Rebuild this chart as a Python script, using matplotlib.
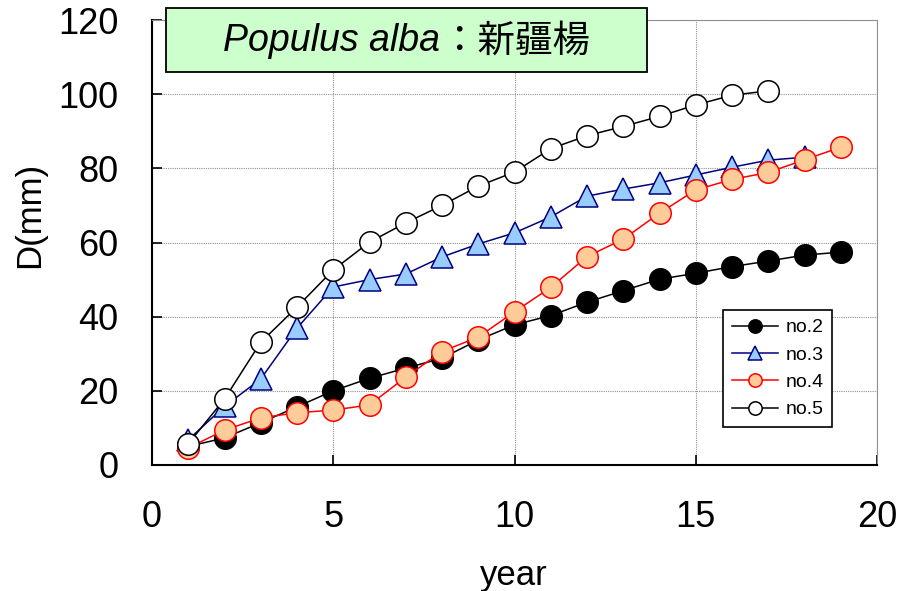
import matplotlib
matplotlib.use("Agg")
import matplotlib.pyplot as plt
from matplotlib.patches import Rectangle

plt.rcParams['font.family'] = ['Liberation Sans', 'Noto Sans CJK JP', 'DejaVu Sans']

# data (D in mm by year)
years_2 = list(range(1, 20))
d_no2 = [5.0, 7.3, 11.4, 15.7, 20.0, 23.4, 26.1, 28.8, 33.7, 37.8,
         40.3, 43.9, 47.0, 50.1, 51.7, 53.5, 55.0, 56.6, 57.4]

years_3 = list(range(1, 19))
d_no3 = [6.8, 15.8, 23.2, 36.9, 48.0, 50.0, 51.5, 56.1, 59.6, 62.6,
         66.9, 72.5, 74.4, 76.1, 78.2, 80.3, 82.2, 83.0]

years_4 = list(range(1, 20))
d_no4 = [4.6, 9.4, 12.7, 14.1, 14.8, 16.2, 23.7, 30.6, 34.5, 41.3,
         47.9, 56.2, 60.9, 67.9, 74.2, 77.0, 78.9, 82.3, 85.7]

years_5 = list(range(1, 18))
d_no5 = [5.7, 17.8, 33.1, 42.6, 52.6, 60.1, 65.3, 70.0, 75.2, 79.0,
         85.3, 88.8, 91.3, 94.0, 97.1, 99.7, 100.9]

x_ticks = [0, 5, 10, 15, 20]
y_ticks = [0, 20, 40, 60, 80, 100, 120]

fig = plt.figure(figsize=(8.97, 5.91), dpi=100)
ax = fig.add_axes([152/897, 1-465/591, 725/897, 445/591])

ms = 15.5
lw = 1.1
ax.plot(years_2, d_no2, color='black', lw=lw, marker='o', ms=ms,
        mfc='black', mec='black', mew=1.1, label='no.2')
ax.plot(years_3, d_no3, color='#000080', lw=lw, marker='^', ms=ms,
        mfc='#99ccff', mec='#000080', mew=1.1, label='no.3')
ax.plot(years_4, d_no4, color='red', lw=lw, marker='o', ms=ms,
        mfc='#ffcc99', mec='red', mew=1.1, label='no.4')
ax.plot(years_5, d_no5, color='black', lw=lw, marker='o', ms=ms,
        mfc='white', mec='black', mew=1.1, label='no.5')

ax.set_xlim(0, 20)
ax.set_ylim(0, 120)
ax.set_xticks(x_ticks)
ax.set_yticks(y_ticks)
ax.tick_params(direction='in', length=7, width=1.2, labelsize=26)
ax.tick_params(axis='x', pad=25)
ax.tick_params(axis='y', pad=24)
ax.grid(True, color='#909090', ls=(0, (1, 1)), lw=0.8)

for s in ['top', 'right']:
    ax.spines[s].set_color('#909090')
    ax.spines[s].set_linestyle((0, (1, 1)))
    ax.spines[s].set_linewidth(0.8)
for s in ['left', 'bottom']:
    ax.spines[s].set_linewidth(1.5)

leg = ax.legend(loc='upper left', bbox_to_anchor=((723-152)/725, (465-310)/445),
                borderaxespad=0, fontsize=14, markerscale=0.62, fancybox=False,
                edgecolor='black', framealpha=1, handlelength=2.4,
                labelspacing=0.5, borderpad=0.45, handletextpad=0.35)
leg.get_frame().set_linewidth(1.2)

fig.text(30/897, 1-215/591, 'D(mm)', rotation=90, ha='center', va='center', fontsize=25)
fig.text(514/897, 1-575/591, 'year', ha='center', va='center', fontsize=25)

# title box
box = Rectangle((166/897, 1-72/591), (647-166)/897, 64/591, transform=fig.transFigure,
                facecolor='#ccffcc', edgecolor='black', lw=1.3, zorder=10)
fig.patches.append(box)
fig.text(440/897, 1-41/591, 'Populus alba', style='italic', ha='right', va='center',
         fontsize=27, zorder=11)
fig.text(440/897, 1-41/591, '：新疆楊', family=['Noto Sans CJK JP'], ha='left',
         va='center', fontsize=27, zorder=11)

fig.savefig('out.png', dpi=100)
